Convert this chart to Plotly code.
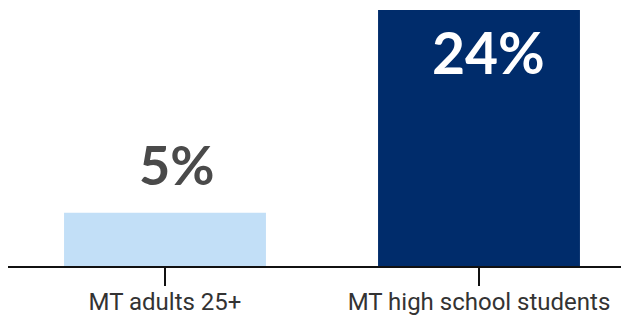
import plotly.graph_objects as go

categories = ["MT adults 25+", "MT high school students"]
values = [5, 24]
labels = ["5%", "24%"]
bar_colors = ["#c2dff7", "#002c6b"]
label_colors = ["#4a4a4a", "#ffffff"]

fig = go.Figure()
fig.add_trace(go.Bar(
    x=[0, 1], y=values, marker=dict(color=bar_colors, line=dict(width=0)),
    width=0.643, hoverinfo="skip",
))

for i, (v, t, c) in enumerate(zip(values, labels, label_colors)):
    if i == 0:
        fig.add_annotation(x=i, y=v, text=t, showarrow=False, xref="x", yref="y",
                           yanchor="bottom", yshift=14, xshift=12,
                           font=dict(family="Lato", size=54, color=c, weight="bold"))
    else:
        fig.add_annotation(x=i, y=v, text=t, showarrow=False, xref="x", yref="y",
                           yanchor="top", yshift=-6, xshift=9,
                           font=dict(family="Lato", size=57, color=c, weight="bold"))

fig.update_layout(
    width=621, height=307,
    margin=dict(l=0, r=0, t=0, b=49),
    paper_bgcolor="white", plot_bgcolor="white",
    showlegend=False,
    xaxis=dict(
        range=[-0.5, -0.5 + 621 / 314],
        tickmode="array", tickvals=[0, 1], ticktext=categories,
        showline=True, linecolor="#111111", linewidth=2,
        ticks="outside", ticklen=18, tickwidth=2, tickcolor="#111111",
        showgrid=False, zeroline=False, automargin=False,
        ticklabelstandoff=-5,
        tickfont=dict(family="Roboto", size=24, color="#333333"),
    ),
    yaxis=dict(range=[0, 24 * 258 / 256], visible=False, showgrid=False, zeroline=False),
)

fig.write_html("out.html")
